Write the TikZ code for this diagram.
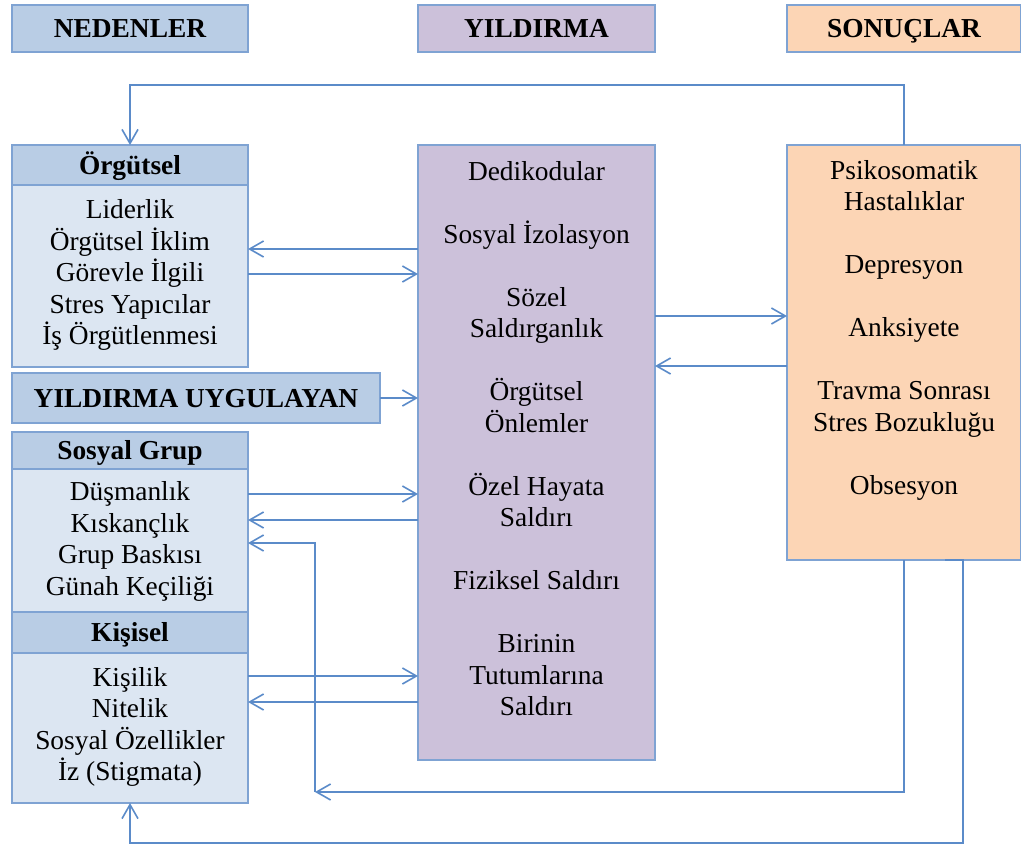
\documentclass[tikz,border=0pt]{standalone}
\usepackage{fontspec}
\setmainfont{Liberation Serif}
\usetikzlibrary{arrows.meta}
\definecolor{hdrblue}{HTML}{B9CDE5}
\definecolor{bodyblue}{HTML}{DCE6F2}
\definecolor{edgeblue}{HTML}{7FA3D3}
\definecolor{linkblue}{HTML}{5B8BC9}
\definecolor{lilac}{HTML}{CCC1DA}
\definecolor{peach}{HTML}{FCD5B5}
\tikzset{
  x=0.5pt, y=-0.5pt,
  txtfont/.style={font=\fontsize{13.7}{15.75}\selectfont},
  panel/.style={draw=edgeblue, line width=1pt, inner sep=0pt, outer sep=0pt},
  hdr/.style={panel, fill=hdrblue, font=\fontsize{13.7}{15.75}\selectfont\bfseries,
    text height=9pt, text depth=0pt},
  body/.style={panel, fill=bodyblue},
  lines/.style={txtfont, align=center, inner sep=0pt},
  arr/.style={draw=linkblue, line width=0.8pt, -{Straight Barb[length=7pt,width=8pt]}}
}
\begin{document}
\begin{tikzpicture}
\useasboundingbox (0,0) rectangle (1021,847);

% column headings
\node[hdr, minimum width=118pt, minimum height=23.5pt] (hN) at (130,28.5) {NEDENLER};
\node[hdr, fill=lilac, minimum width=118.5pt, minimum height=23.5pt] (hY) at (536.5,28.5) {YILDIRMA};
\node[hdr, fill=peach, minimum width=117pt, minimum height=23.5pt] (hS) at (904,28.5) {SONUÇLAR};

% causes: organisational
\node[hdr, minimum width=118pt, minimum height=20pt] (orgH) at (130,165) {Örgütsel};
\node[body, minimum width=118pt, minimum height=91pt] (orgB) at (130,276) {};
\node[lines] (orgT) at (130,275) {Liderlik\\Örgütsel İklim\\Görevle İlgili\\Stres Yapıcılar\\İş Örgütlenmesi};

% perpetrator
\node[hdr, minimum width=184pt, minimum height=25pt] (uyg) at (196,398) {YILDIRMA UYGULAYAN};

% causes: social group
\node[hdr, minimum width=118pt, minimum height=18.5pt] (sosH) at (130,450.5) {Sosyal Grup};
\node[body, minimum width=118pt, minimum height=71.5pt] (sosB) at (130,540.5) {};
\node[lines] (sosT) at (130,541.5) {Düşmanlık\\Kıskançlık\\Grup Baskısı\\Günah Keçiliği};

% causes: personal
\node[hdr, minimum width=118pt, minimum height=20.5pt] (kisH) at (130,632.5) {Kişisel};
\node[body, minimum width=118pt, minimum height=75pt] (kisB) at (130,728) {};
\node[lines] (kisT) at (130,727) {Kişilik\\Nitelik\\Sosyal Özellikler\\İz (Stigmata)};

% mobbing behaviours
\node[panel, fill=lilac, minimum width=118.5pt, minimum height=307.5pt] (mid) at (536.5,452.5) {};
\node[lines] (midT) at (536.5,438.5) {Dedikodular\\~\\Sosyal İzolasyon\\~\\Sözel\\Saldırganlık\\~\\Örgütsel\\Önlemler\\~\\Özel Hayata\\Saldırı\\~\\Fiziksel Saldırı\\~\\Birinin\\Tutumlarına\\Saldırı};

% consequences
\node[panel, fill=peach, minimum width=117pt, minimum height=207.5pt] (res) at (904,352.5) {};
\node[lines] (resT) at (904,330) {Psikosomatik\\Hastalıklar\\~\\Depresyon\\~\\Anksiyete\\~\\Travma Sonrası\\Stres Bozukluğu\\~\\Obsesyon};

% links between causes and behaviours
\draw[arr] (mid.west |- 0,249) -- (orgB.east |- 0,249);
\draw[arr] (orgB.east |- 0,274) -- (mid.west |- 0,274);
\draw[arr] (uyg.east) -- (mid.west |- uyg.east);
\draw[arr] (sosB.east |- 0,494) -- (mid.west |- 0,494);
\draw[arr] (mid.west |- 0,520) -- (sosB.east |- 0,520);
\draw[arr] (kisB.east |- 0,676) -- (mid.west |- 0,676);
\draw[arr] (mid.west |- 0,702) -- (kisB.east |- 0,702);

% links between behaviours and consequences
\draw[arr] (mid.east |- 0,316) -- (res.west |- 0,316);
\draw[arr] (res.west |- 0,366) -- (mid.east |- 0,366);

% feedback loops
\draw[arr] (res.north) |- (orgH.north |- 0,85) -- (orgH.north);
\coordinate (jn) at (315,792);
\draw[arr] (res.south) |- (jn);
\draw[arr] (jn) |- (sosB.east |- 0,543);
\draw[arr] (res.south -| 945,0) -- (res.south -| 963,0) -- (963,843) -| (kisB.south);
\end{tikzpicture}
\end{document}
